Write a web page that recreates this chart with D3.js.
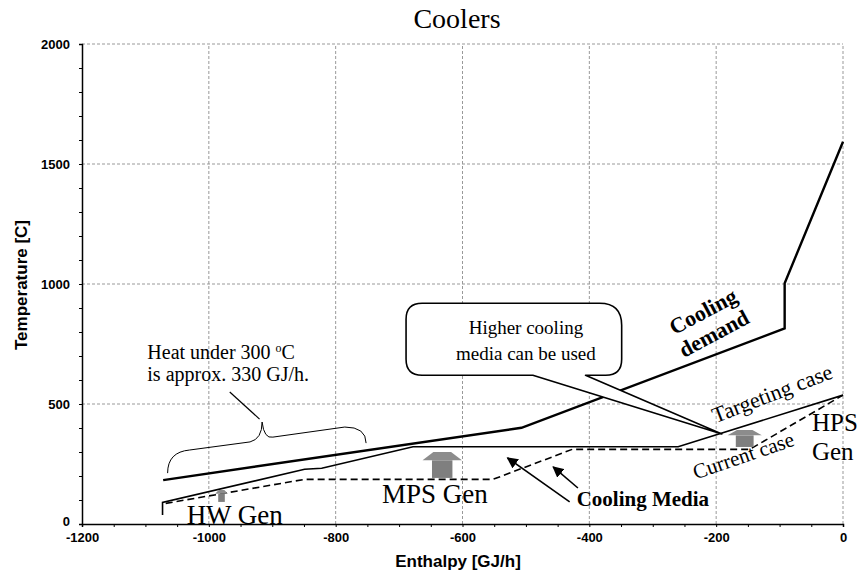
<html>
<head>
  <script type="text/javascript" src="https://d3js.org/d3.v7.min.js"></script>
  <style>
      body { margin: 0; background: #fff; }
      .tick text { font: bold 13px "Liberation Sans", Arial, sans-serif; }
      .serif { font-family: "Liberation Serif", "Times New Roman", serif; }
  </style>
</head>
<body>
<div id="chart"></div>
<script>
    // axes
    const xTicks = [-1200, -1000, -800, -600, -400, -200, 0];
    const yTicks = [0, 500, 1000, 1500, 2000];

    // composite curves (enthalpy GJ/h, temperature C)
    const demandH = [-1072, -507, -92, -92, 0];
    const demandT = [183, 401, 815, 1003, 1593];
    const targetH = [-1073, -1073, -849, -822, -678, -260, 0];
    const targetT = [37, 90, 228, 232, 322, 322, 537];
    const currentH = [-1068, -849, -552, -427, -147, 0];
    const currentT = [86, 186, 186, 311, 311, 537];

    // grey block arrows: centre H, bottom T, top T, width in GJ/h
    const genNames = ["HW Gen", "MPS Gen", "HPS Gen"];
    const genH = [-980, -632, -155];
    const genLow = [92, 192, 321];
    const genHigh = [142, 300, 392];
    const genWidth = [20, 62, 54];

    let width = 861;
    let height = 575;
    const x = d3.scaleLinear().domain([-1200, 0]).range([82, 843]);
    const y = d3.scaleLinear().domain([0, 2000]).range([524, 44]);

    const svg = d3.select('#chart')
        .append('svg')
        .attr('width', width)
        .attr('height', height);

    // grid
    svg.append("g").selectAll("line")
        .data(xTicks.slice(1))
        .enter().append("line")
        .attr("x1", d => x(d)).attr("x2", d => x(d))
        .attr("y1", y(0)).attr("y2", y(2000))
        .attr("stroke", "#999").attr("stroke-dasharray", "3,2");
    svg.append("g").selectAll("line")
        .data(yTicks.slice(1))
        .enter().append("line")
        .attr("x1", x(-1200)).attr("x2", x(0))
        .attr("y1", d => y(d)).attr("y2", d => y(d))
        .attr("stroke", "#999").attr("stroke-dasharray", "3,2");

    // axes
    const xAxis = svg.append("g")
        .attr("transform", "translate(0," + y(0) + ")")
        .call(d3.axisBottom(x).tickValues(d3.range(-1200, 1, 50)).tickSize(3)
            .tickFormat(d => xTicks.includes(d) ? d : ""));
    xAxis.select(".domain").attr("stroke-width", 1.5);
    xAxis.selectAll("text").attr("dy", "0.9em");

    const yAxis = svg.append("g")
        .attr("transform", "translate(" + x(-1200) + ",0)")
        .call(d3.axisLeft(y).tickValues(d3.range(0, 2001, 100)).tickSize(3)
            .tickFormat(d => yTicks.includes(d) ? d : ""));
    yAxis.select(".domain").attr("stroke-width", 1.5);
    yAxis.selectAll("text").attr("x", -12);
    yAxis.selectAll(".tick").filter(d => d === 0).select("text").attr("dy", "0.1em");

    svg.append("text")
        .attr("x", 458).attr("y", 567)
        .attr("text-anchor", "middle")
        .style("font", "bold 17px 'Liberation Sans', Arial, sans-serif")
        .text("Enthalpy [GJ/h]");
    svg.append("text")
        .attr("transform", "translate(27,285) rotate(-90)")
        .attr("text-anchor", "middle")
        .style("font", "bold 17px 'Liberation Sans', Arial, sans-serif")
        .text("Temperature [C]");
    svg.append("text")
        .attr("class", "serif")
        .attr("x", 457).attr("y", 28)
        .attr("text-anchor", "middle")
        .style("font-size", "28px")
        .text("Coolers");

    // curves
    const line = d3.line().x(d => x(d[0])).y(d => y(d[1]));
    svg.append("path")
        .attr("d", line(d3.zip(currentH, currentT)))
        .attr("fill", "none").attr("stroke", "#000")
        .attr("stroke-width", 1.6).attr("stroke-dasharray", "7,4");
    svg.append("path")
        .attr("d", line(d3.zip(targetH, targetT)))
        .attr("fill", "none").attr("stroke", "#000").attr("stroke-width", 1.6);
    svg.append("path")
        .attr("d", line(d3.zip(demandH, demandT)))
        .attr("fill", "none").attr("stroke", "#000").attr("stroke-width", 2.4);

    // grey block arrows
    genNames.forEach((name, i) => {
        const cx = x(genH[i]);
        const half = (x(genWidth[i]) - x(0)) / 2;
        const yb = y(genLow[i]), yt = y(genHigh[i]);
        const headH = (yb - yt) * 0.32;
        const shaft = half * 0.52;
        svg.append("rect")
            .attr("x", cx - shaft).attr("y", yt + headH)
            .attr("width", shaft * 2).attr("height", yb - yt - headH)
            .attr("fill", "#7f7f7f");
        svg.append("path")
            .attr("d", `M${cx - half},${yt + headH} L${cx - half * 0.45},${yt} L${cx + half * 0.45},${yt} L${cx + half},${yt + headH} Z`)
            .attr("fill", "#8c8c8c");
    });

    // generator labels
    const serifText = (tx, ty, txt, size) => svg.append("text")
        .attr("class", "serif").attr("x", tx).attr("y", ty)
        .style("font-size", size + "px").text(txt);
    serifText(x(-1035), y(0), "HW Gen", 27);
    serifText(x(-727), y(88), "MPS Gen", 27);
    serifText(x(-49), y(387), "HPS", 25);
    serifText(x(-49), y(266), "Gen", 25);

    // rotated labels
    svg.append("text").attr("class", "serif")
        .attr("transform", `translate(${x(-201)},${y(420)}) rotate(-21)`)
        .style("font-size", "22px").text("Targeting case");
    svg.append("text").attr("class", "serif")
        .attr("transform", `translate(${x(-232)},${y(185)}) rotate(-19)`)
        .style("font-size", "21px").text("Current case");
    svg.append("text").attr("class", "serif")
        .attr("transform", `translate(${x(-215)},${y(858)}) rotate(-28)`)
        .attr("text-anchor", "middle")
        .style("font-size", "22px").style("font-weight", "bold").text("Cooling");
    svg.append("text").attr("class", "serif")
        .attr("transform", `translate(${x(-198)},${y(766)}) rotate(-28)`)
        .attr("text-anchor", "middle")
        .style("font-size", "22px").style("font-weight", "bold").text("demand");

    // cooling media label and arrows
    svg.append("defs").append("marker")
        .attr("id", "head").attr("viewBox", "0 0 10 10")
        .attr("refX", 9).attr("refY", 5)
        .attr("markerWidth", 7).attr("markerHeight", 7)
        .attr("orient", "auto")
        .append("path").attr("d", "M0,0 L10,5 L0,10 Z").attr("fill", "#000");
    serifText(x(-420), y(75), "Cooling Media", 21).style("font-weight", "bold");
    const mediaArrows = [[[-431, 92], [-529, 275]], [[-418, 150], [-457, 238]]];
    mediaArrows.forEach(a => svg.append("line")
        .attr("x1", x(a[0][0])).attr("y1", y(a[0][1]))
        .attr("x2", x(a[1][0])).attr("y2", y(a[1][1]))
        .attr("stroke", "#000").attr("stroke-width", 1.6)
        .attr("marker-end", "url(#head)"));

    // brace + leader for "heat under 300 C"
    const bracePts = [[-1065, 212], [-1046, 300], [-935, 342], [-916, 425], [-899, 362], [-773, 404], [-752, 337]];
    const bp = bracePts.map(p => [x(p[0]), y(p[1])]);
    svg.append("path")
        .attr("d", `M${bp[0]} Q${bp[0][0]},${bp[1][1]} ${bp[1][0] + 10},${bp[1][1] - 2} L${bp[2]} Q${bp[3][0]},${bp[2][1] - 3} ${bp[3]} Q${bp[3][0] + 2},${bp[4][1] + 2} ${bp[4]} L${bp[5][0] - 8},${bp[5][1]} Q${bp[6][0]},${bp[5][1]} ${bp[6]}`)
        .attr("fill", "none").attr("stroke", "#000").attr("stroke-width", 1);
    svg.append("line")
        .attr("x1", x(-967)).attr("y1", y(550))
        .attr("x2", x(-920)).attr("y2", y(437))
        .attr("stroke", "#000").attr("stroke-width", 1.2);
    const heat = svg.append("text").attr("class", "serif")
        .attr("x", x(-1097)).attr("y", y(688)).style("font-size", "20px");
    heat.append("tspan").text("Heat under 300 ");
    heat.append("tspan").text("o").style("font-size", "12px").attr("dy", "-7");
    heat.append("tspan").text("C").attr("dy", "7");
    serifText(x(-1097), y(595), "is approx. 330 GJ/h.", 20);

    // callout
    const bx0 = x(-689), bx1 = x(-349), by0 = y(920), by1 = y(620);
    const tipX = x(-191), tipY = y(375);
    const tl = x(-489), tr = x(-406), r = 16;
    svg.append("path")
        .attr("d", `M${tl},${by1} L${bx0 + r},${by1} Q${bx0},${by1} ${bx0},${by1 - r} L${bx0},${by0 + r} Q${bx0},${by0} ${bx0 + r},${by0} L${bx1 - 22},${by0} Q${bx1},${by0} ${bx1},${by0 + 22} L${bx1},${by1 - r} Q${bx1},${by1} ${bx1 - r},${by1} L${tr},${by1} L${tipX},${tipY} Z`)
        .attr("fill", "#fff").attr("stroke", "#000").attr("stroke-width", 1.6)
        .attr("stroke-linejoin", "round");
    svg.append("text").attr("class", "serif")
        .attr("x", x(-500)).attr("y", y(790)).attr("text-anchor", "middle")
        .style("font-size", "19px").text("Higher cooling");
    svg.append("text").attr("class", "serif")
        .attr("x", x(-500)).attr("y", y(685)).attr("text-anchor", "middle")
        .style("font-size", "19px").text("media can be used");
</script>
</body>
</html>
